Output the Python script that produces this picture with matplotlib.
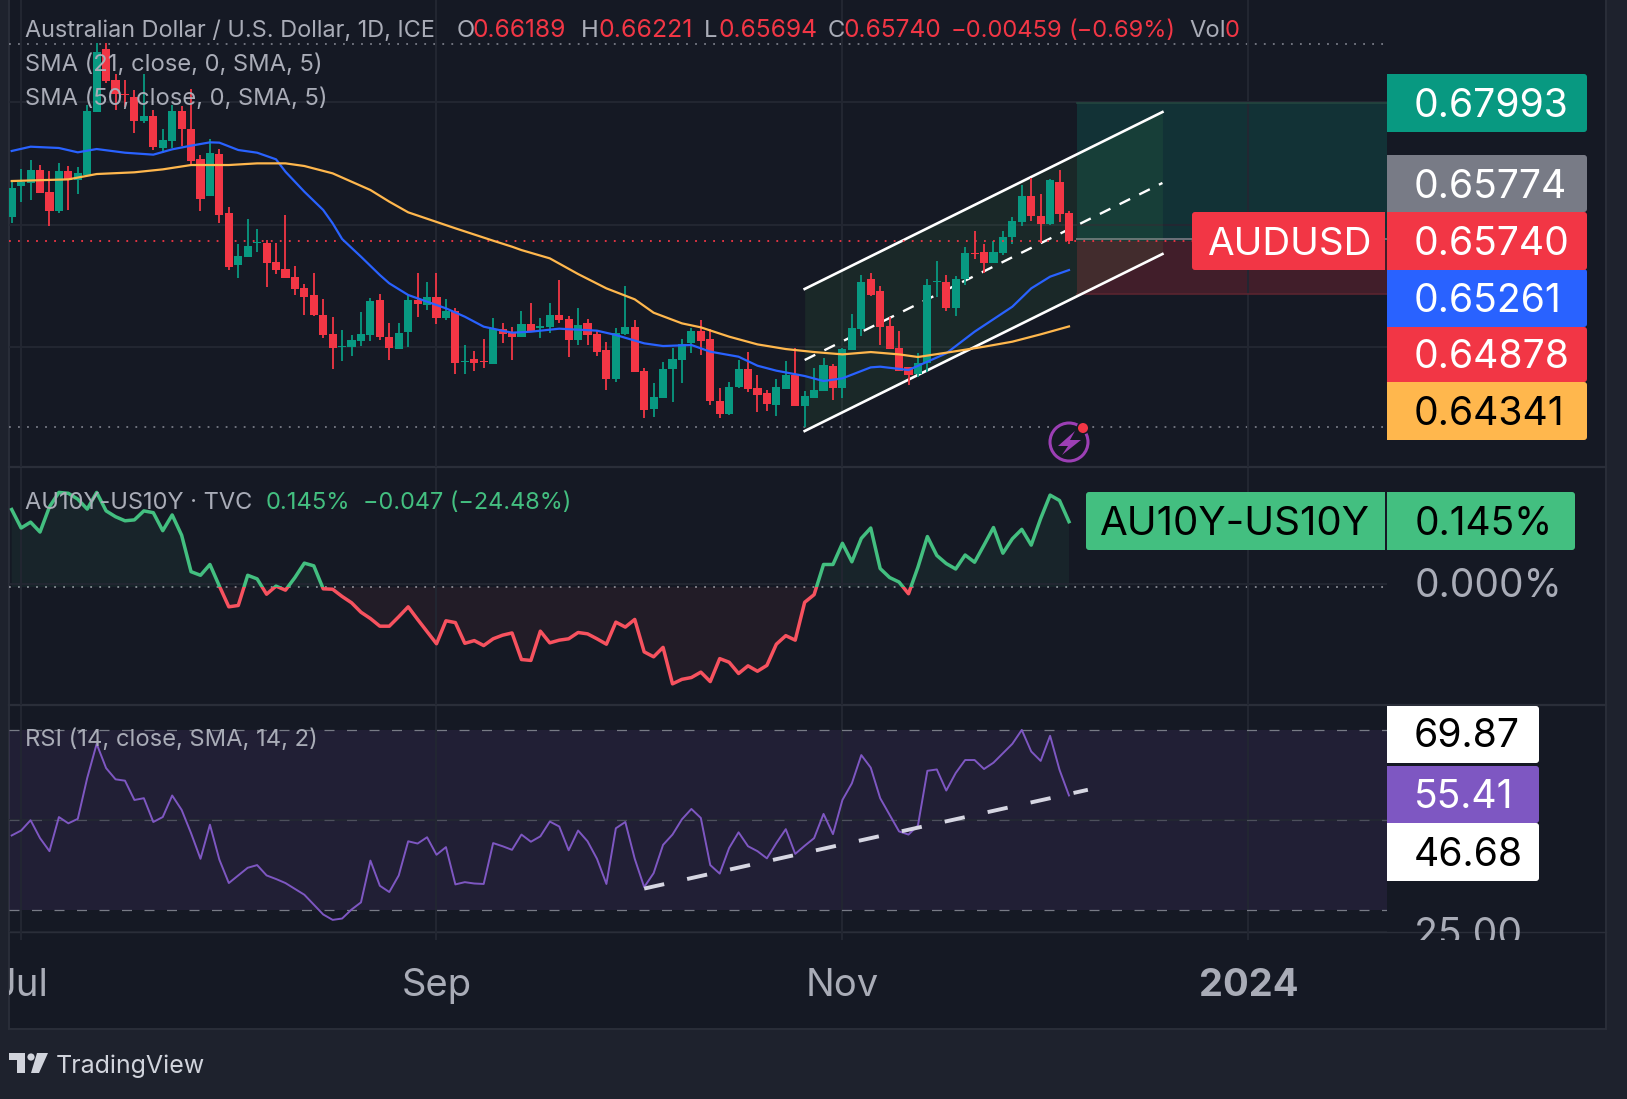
import numpy as np
import matplotlib
matplotlib.use('Agg')
import matplotlib.pyplot as plt
import matplotlib.patches as mpatches

plt.rcParams['font.family'] = ['Inter', 'DejaVu Sans']

# daily candles
opens = [
    .66132, .66638, .66687, .66888, .66535, .66230, .66872, .66730, .66812, .67846,
    .68863, .68362, .68139, .68080, .67699, .67775, .67258, .67372, .67856, .67563,
    .67073, .66475, .67155, .66192, .65343, .65468, .65697, .65702, .65392, .65278,
    .65147, .64968, .64854, .64527, .64212, .64005, .64010, .64108, .64201, .64772,
    .64168, .63978, .64255, .64772, .64690, .64821, .64473, .64592, .63755, .63809,
    .63776, .63733, .64293, .64228, .64168, .64380, .64320, .64331, .64527, .64462,
    .64119, .64397, .64217, .63956, .63483, .64217, .64331, .63613, .62993, .63173,
    .63646, .63793, .64070, .64266, .64136, .63124, .62912, .63347, .63646, .63336,
    .63254, .63058, .63325, .63548, .63042, .63173, .63287, .63695, .63336, .63956,
    .64299, .65115, .64919, .64348, .63989, .63679, .63559, .63744, .65060, .65066,
    .64641, .65120, .65539, .65560, .65381, .65544, .65805, .66050, .66474, .66148,
    .66017, .66703, .66189,
]
highs = [
    .66703, .66910, .67057, .66975, .66872, .67002, .66959, .66937, .67949, .68961,
    .68961, .68460, .68362, .68199, .68460, .67873, .67557, .67949, .67938, .68210,
    .67138, .67394, .67231, .66284, .65686, .66094, .65931, .65751, .65697, .66159,
    .65327, .65028, .65207, .64788, .64495, .64282, .64201, .64571, .64810, .64870,
    .64402, .64402, .64854, .65207, .65066, .65207, .64788, .64636, .64038, .63940,
    .64130, .64473, .64397, .64326, .64592, .64718, .64473, .64718, .65098, .64511,
    .64641, .64462, .64282, .64081, .64310, .65000, .64440, .63657, .63417, .63755,
    .63989, .64136, .64310, .64446, .64293, .63336, .63434, .63793, .63923, .63548,
    .63303, .63477, .63776, .63983, .63287, .63662, .63825, .63728, .63983, .64544,
    .65180, .65207, .65000, .64489, .64266, .63679, .63907, .65115, .65408, .65180,
    .65164, .65637, .65892, .65691, .65740, .65903, .66132, .66654, .66768, .66507,
    .66752, .66899, .66221,
]
lows = [
    .66034, .66377, .66404, .66524, .65980, .66197, .66241, .66502, .66812, .67846,
    .68308, .67873, .67916, .67503, .67655, .67220, .67166, .67258, .67285, .66975,
    .66230, .66475, .66023, .65262, .65136, .65468, .65561, .64979, .65196, .65136,
    .64859, .64527, .64511, .64152, .63651, .63776, .63858, .64027, .64108, .64119,
    .63793, .63978, .64010, .64500, .64609, .64380, .64446, .63564, .63564, .63613,
    .63662, .63733, .64065, .63793, .64168, .64255, .64152, .64228, .64391, .63847,
    .64038, .64038, .63864, .63303, .63439, .64201, .63597, .62846, .62868, .63173,
    .63113, .63417, .63902, .63874, .63058, .62846, .62895, .63330, .63276, .62944,
    .62960, .62879, .63314, .63042, .62705, .63173, .63287, .63140, .63173, .63956,
    .64184, .64837, .64038, .63972, .63613, .63385, .63521, .63597, .64821, .64592,
    .64511, .65011, .65441, .65212, .65381, .65511, .65685, .65974, .66066, .65707,
    .66001, .66050, .65694,
]
closes = [
    .66594, .66703, .66888, .66524, .66230, .66872, .66730, .66839, .67851, .68825,
    .68346, .68134, .68118, .67699, .67775, .67269, .67383, .67856, .67563, .67040,
    .66420, .67171, .66165, .65316, .65490, .65653, .65713, .65376, .65262, .65136,
    .64957, .64826, .64527, .64201, .63989, .64027, .64119, .64217, .64756, .64174,
    .63989, .64233, .64772, .64712, .64821, .64484, .64598, .63749, .63782, .63749,
    .63755, .64293, .64223, .64168, .64380, .64255, .64342, .64527, .64446, .64119,
    .64364, .64201, .63923, .63483, .64233, .64331, .63597, .62977, .63189, .63646,
    .63809, .64054, .64266, .64103, .63124, .62912, .63352, .63646, .63320, .63222,
    .63075, .63352, .63548, .63042, .63205, .63303, .63711, .63336, .63972, .64315,
    .65066, .64854, .64331, .63972, .63613, .63548, .63744, .65017, .65082, .64647,
    .65115, .65544, .65517, .65370, .65560, .65805, .66066, .66474, .66148, .66017,
    .66735, .66181, .65740,
]

# moving averages, read at the bends of each line
sma21_x = [0, 2, 5, 7, 9, 12, 15, 17, 19, 21, 22, 24, 26, 28, 29, 31, 33, 34, 35, 37,
           39, 40, 42, 44, 46, 48, 50, 52, 53, 55, 58, 62, 64, 67, 69, 72, 74, 77, 79,
           81, 84, 86, 88, 91, 92, 95, 97, 99, 102, 106, 108, 110, 112]
sma21_y = [.67204, .67274, .67253, .67182, .67236, .67176, .67144, .67231, .67291, .67345,
           .67340, .67220, .67176, .67068, .66866, .66540, .66241, .66023, .65768, .65479,
           .65180, .65044, .64854, .64745, .64636, .64500, .64337, .64270, .64239, .64255,
           .64304, .64272, .64201, .64065, .64021, .64038, .63929, .63847, .63700, .63619,
           .63532, .63450, .63494, .63673, .63684, .63630, .63766, .63902, .64255, .64663,
           .64962, .65153, .65261]
sma50_x = [0, 6, 9, 13, 16, 19, 23, 26, 29, 31, 34, 38, 40, 42, 47, 51, 53, 54, 57, 60,
           63, 66, 68, 71, 73, 76, 79, 82, 85, 88, 91, 94, 96, 99, 103, 106, 109, 112]
sma50_y = [.66714, .66741, .66828, .66856, .66904, .66975, .66975, .67002, .67002, .66959,
           .66839, .66567, .66377, .66203, .65942, .65740, .65642, .65587, .65452, .65196,
           .64962, .64783, .64565, .64391, .64326, .64174, .64048, .63972, .63923, .63885,
           .63923, .63885, .63842, .63912, .64010, .64092, .64212, .64341]

# AU10Y-US10Y spread
spread = [
    .172, .131, .144, .122, .178, .210, .208, .195, .173, .210,
    .169, .156, .147, .149, .169, .165, .125, .160, .115, .034,
    .026, .050, .002, -.044, -.041, .026, .018, -.016, .002, -.007,
    .021, .053, .047, -.004, -.005, -.021, -.035, -.056, -.070, -.087,
    -.087, -.066, -.044, -.072, -.099, -.126, -.075, -.079, -.125, -.119,
    -.130, -.115, -.107, -.102, -.161, -.163, -.098, -.124, -.118, -.115,
    -.101, -.104, -.115, -.127, -.078, -.089, -.072, -.144, -.155, -.134,
    -.215, -.205, -.201, -.189, -.210, -.159, -.167, -.192, -.175, -.187,
    -.174, -.127, -.108, -.118, -.034, -.017, .050, .050, .097, .056,
    .108, .131, .041, .021, .011, -.015, .044, .112, .070, .052,
    .040, .071, .055, .093, .132, .075, .107, .128, .093, .152,
    .204, .192, .145,
]

# RSI
rsi = [
    46.5, 47.6, 49.9, 45.9, 43.0, 50.6, 49.2, 50.2, 59.3, 66.9,
    61.5, 59.0, 58.7, 54.4, 54.8, 49.5, 50.6, 55.4, 52.2, 47.0,
    41.3, 48.9, 41.1, 35.9, 37.6, 39.3, 39.9, 37.6, 36.8, 35.9,
    34.6, 33.3, 31.1, 28.9, 27.7, 28.0, 30.0, 31.6, 40.9, 35.3,
    33.9, 37.6, 45.2, 44.7, 46.1, 42.2, 43.9, 35.6, 36.1, 35.8,
    35.7, 44.8, 44.1, 43.3, 46.7, 45.1, 46.3, 49.6, 48.5, 43.2,
    47.6, 45.2, 41.3, 35.7, 48.1, 49.5, 41.3, 35.0, 38.1, 44.4,
    46.7, 50.1, 52.4, 50.4, 39.9, 38.0, 43.7, 47.2, 44.1, 43.0,
    41.4, 44.8, 47.9, 42.4, 44.2, 45.9, 51.3, 46.8, 54.4, 58.1,
    64.4, 61.6, 54.8, 51.1, 47.4, 46.7, 48.7, 60.9, 61.2, 56.5,
    60.4, 63.3, 63.3, 61.3, 62.7, 64.8, 66.9, 70.0, 65.2, 63.1,
    68.7, 61.1, 55.41,
]

month_pos = [1, 45, 88, 131]
month_labels = ['Jul', 'Sep', 'Nov', '2024']

price_high = 0.68955
price_low = 0.62705
last_price = 0.65740
target = 0.67993
stop = 0.64878
entry = 0.65774

# channel and trend line end points
channel_x = [84, 121.9]
channel_top = [.64952, .67840]
channel_mid = [.63793, .66682]
channel_bot = [.62634, .65523]
rsi_trend_x = [67, 114]
rsi_trend_y = [34.67, 56.67]

BG = '#151924'
FRAME = '#1e222d'
GRID = '#232732'
LINE = '#2a2e39'
TXT = '#a9acb7'
GREEN = '#089981'
RED = '#f23645'
AUGREEN = '#43bf80'
AURED = '#f7525f'
PURPLE = '#7e57c2'

W, H = 1627, 1099
fig = plt.figure(figsize=(W / 100, H / 100), dpi=100, facecolor=FRAME)


def pane(x0, y0, x1, y1, zorder=1):
    a = fig.add_axes([x0 / W, 1 - y1 / H, (x1 - x0) / W, (y1 - y0) / H], zorder=zorder)
    a.patch.set_alpha(0)
    for s in a.spines.values():
        s.set_visible(False)
    return a


# background and frame
ax_bg = pane(0, 0, W, H, zorder=0)
ax_bg.set_xlim(0, W)
ax_bg.set_ylim(H, 0)
ax_bg.axis('off')
ax_bg.add_patch(mpatches.Rectangle((9, -2), 1597, 1031, fc=BG, ec=LINE, lw=1.4))
for yy in [467, 705, 932]:
    ax_bg.plot([9, 1606], [yy, yy], color=LINE, lw=1.6 if yy != 932 else 1.0)

left, right = 9, 1387
xlim = ((left - 11.7) / 9.44, (right - 11.7) / 9.44)

ax = pane(left, 0, right, 467)
ax2 = pane(left, 468, right, 705)
ax3 = pane(left, 706, right, 932)
ax4 = pane(left, 932, right, 1028)
for a in (ax, ax2, ax3, ax4):
    a.set_xlim(*xlim)
    a.set_xticks(month_pos)
    a.tick_params(length=0, labelbottom=False, labelleft=False)
    a.grid(True, axis='x', color=GRID, lw=1.4, zorder=0)
ax4.grid(False)
ax4.set_yticks([])
ax4.tick_params(axis='x', top=True, bottom=False, direction='in', length=5.8, color=GRID, width=1.4)

# main pane
ax.set_ylim(0.62047, 0.69668)
ax.set_yticks([.64, .66, .68])
ax.grid(True, axis='y', color=GRID, lw=1.4, zorder=0)
ax.axhline(price_high, color='#787b86', lw=1.3, ls=(0, (1, 4)), zorder=1)
ax.axhline(price_low, color='#787b86', lw=1.3, ls=(0, (1, 4)), zorder=1)
ax.hlines(last_price, xlim[0], 125, color=RED, lw=1.3, ls=(0, (1, 4)), zorder=5)

# long position box
ax.fill_between([112.85, xlim[1]], last_price, target, color=GREEN, alpha=.2, lw=0, zorder=1)
ax.fill_between([112.85, xlim[1]], stop, last_price, color=RED, alpha=.2, lw=0, zorder=1)
ax.plot([112.85, xlim[1]], [entry, entry], color='#6d7079', lw=1.4, zorder=2)
ax.plot([112.85, xlim[1]], [target, target], color='#24463f', lw=1.2, zorder=2)
ax.plot([112.85, xlim[1]], [stop, stop], color='#5a2530', lw=1.2, zorder=2)

# channel
ax.fill_between(channel_x, channel_bot, channel_top, color='#4caf50', alpha=.1, lw=0, zorder=2)
ax.plot(channel_x, channel_top, color='white', lw=1.9, zorder=3)
ax.plot(channel_x, channel_bot, color='white', lw=1.9, zorder=3)
ax.plot(channel_x, channel_mid, color='white', lw=1.7, ls=(0, (5.0, 4.3)), zorder=3)

# candles
idx = np.arange(len(closes))
o, h, l, c = map(np.array, (opens, highs, lows, closes))
colors = [GREEN if b >= a else RED for a, b in zip(o, c)]
ax.vlines(idx, l, h, colors=colors, lw=1.3, zorder=4)
ax.bar(idx, np.abs(c - o), bottom=np.minimum(o, c), width=.86, color=colors, lw=0, zorder=4)

ax.plot(sma21_x, sma21_y, color='#2962ff', lw=1.6, zorder=5)
ax.plot(sma50_x, sma50_y, color='#ffb74d', lw=1.6, zorder=5)

# spread pane
ax2.set_ylim(-.26196, .26418)
ax2.set_yticks([.006])
ax2.grid(True, axis='y', color=GRID, lw=1.4, zorder=0)
ax2.axhline(0, color='#8a8d96', lw=1.3, ls=(0, (1, 4)), zorder=1)
sp = np.array(spread)
xs = np.arange(len(sp))
ax2.fill_between(xs, 0, sp, where=sp >= 0, interpolate=True, color=AUGREEN, alpha=.07, lw=0, zorder=1)
ax2.fill_between(xs, 0, sp, where=sp <= 0, interpolate=True, color=AURED, alpha=.06, lw=0, zorder=1)
up, = ax2.plot(xs, sp, color=AUGREEN, lw=2.5, zorder=3)
dn, = ax2.plot(xs, sp, color=AURED, lw=2.5, zorder=3)
up.set_clip_path(mpatches.Rectangle((xlim[0], 0), xlim[1] - xlim[0], 1, transform=ax2.transData))
dn.set_clip_path(mpatches.Rectangle((xlim[0], -1), xlim[1] - xlim[0], 1, transform=ax2.transData))

# RSI pane
ax3.set_ylim(25.11, 75.33)
ax3.set_yticks([25, 50])
ax3.grid(True, axis='y', color=GRID, lw=1.4, zorder=0)
ax3.axhspan(30, 70, color='#8a55c4', alpha=.11, lw=0, zorder=1)
for lev in [70, 50, 30]:
    ax3.axhline(lev, color='#787b86', lw=.9, ls=(0, (8, 10)), zorder=2, alpha=.5 if lev == 50 else 1)
ax3.plot(np.arange(len(rsi)), rsi, color=PURPLE, lw=1.4, zorder=3)
ax3.plot(rsi_trend_x, rsi_trend_y, color='#d6d6e2', lw=2.8, ls=(0, (5.27, 6.04)), zorder=3)

# overlay in pixels for labels
px = pane(0, 0, W, H, zorder=5)
px.set_xlim(0, W)
px.set_ylim(H, 0)
px.axis('off')


def box(x0, y0, x1, y1, color):
    px.add_patch(mpatches.FancyBboxPatch((x0, y0), x1 - x0, y1 - y0, boxstyle='round,pad=0,rounding_size=3', fc=color, lw=0))


def flat(x0, y0, x1, y1, color):
    box(x0, y0, x1, y1, color)
    px.add_patch(mpatches.Rectangle((x0, y0), 6, y1 - y0, fc=color, lw=0))


def txt(x, y, s, color=TXT, size=17.1, ha='left', **kw):
    return px.text(x, y, s, color=color, fontsize=size, ha=ha, va='baseline', **kw)


PS = 28.2
for y0, y1, base, col, fg, s in [
    (74, 132, 116.7, GREEN, 'white', f'{target:.5f}'),
    (155, 212, 197.7, '#787b86', 'white', f'{entry:.5f}'),
    (269, 327, 311.7, '#2962ff', 'white', '0.65261'),
    (327, 382, 367.7, RED, 'white', f'{stop:.5f}'),
    (382, 440, 425, '#ffb74d', 'black', '0.64341'),
    (212, 270, 255, RED, 'white', f'{last_price:.5f}'),
]:
    flat(1387, y0, 1587, y1, col)
    txt(1414, base, s, fg, PS)

box(1192, 212, 1385, 270, RED)
px.add_patch(mpatches.Rectangle((1300, 212), 85, 58, fc=RED, lw=0))
txt(1207, 255, 'AUDUSD', 'white', 27.8)

box(1086, 492, 1385, 550, AUGREEN)
px.add_patch(mpatches.Rectangle((1300, 492), 85, 58, fc=AUGREEN, lw=0))
flat(1387, 492, 1575, 550, AUGREEN)
txt(1100, 535, 'AU10Y-US10Y', 'black', 29)
txt(1415, 535, '0.145%', 'black', 28)
txt(1415, 597.3, '0.000%', TXT, 28)

flat(1387, 706, 1539, 763, 'white')
flat(1387, 766, 1539, 823, PURPLE)
flat(1387, 823, 1539, 881, 'white')
txt(1414, 747.3, '69.87', 'black', PS)
txt(1414, 808.3, '55.41', 'white', PS)
txt(1414, 865.7, '46.68', 'black', PS)
t25 = txt(1414, 946, '25.00', TXT, PS)
t25.set_clip_on(True)
t25.set_clip_path(mpatches.Rectangle((1387, 900), 220, 40, transform=px.transData))

# time axis
for pos, lab in zip(month_pos, month_labels):
    xp = 11.7 + 9.44 * pos
    t = txt(xp, 996, lab, TXT, 27.5, ha='center', fontweight='bold' if lab == '2024' else 'normal')
    t.set_clip_on(True)
    t.set_clip_path(mpatches.Rectangle((9, 940), 1597, 88, transform=px.transData))

# legends
txt(25, 36.7, 'Australian Dollar / U.S. Dollar, 1D, ICE', size=16.9)
for x, s, col, sz in [(456.5, 'O', TXT, 17.1), (473, '0.66189', RED, 17.7), (581, 'H', TXT, 17.1), (599, '0.66221', RED, 17.9),
                      (703.5, 'L', TXT, 17.1), (719, '0.65694', RED, 17.7), (828, 'C', TXT, 17.1), (844, '0.65740', RED, 17.7),
                      (951, '\u22120.00459', RED, 17.1), (1069, '(\u22120.69%)', RED, 17.0), (1189, 'Vol', TXT, 17.1), (1225, '0', RED, 17.1)]:
    txt(x, 36.7, s, col, sz)
txt(25, 71, 'SMA (21, close, 0, SMA, 5)')
txt(25, 105, 'SMA (50, close, 0, SMA, 5)')
txt(25, 509, 'AU10Y-US10Y \u00b7 TVC', size=17)
txt(265.6, 509, '0.145%', AUGREEN, 17.1)
txt(363, 509, '\u22120.047 (\u221224.48%)', AUGREEN, 16.9)
txt(25, 746, 'RSI (14, close, SMA, 14, 2)')

# earnings flash icon
px.add_patch(mpatches.Circle((1069, 442), 19, fc=BG, ec='#9c3fb5', lw=2.2))
px.add_patch(mpatches.Polygon([(1075, 431), (1058, 446), (1068, 446), (1062, 455), (1081, 440), (1070, 440)],
                              fc='#9c3fb5', lw=0))
px.add_patch(mpatches.Circle((1083, 428), 6.5, fc=BG, lw=0))
px.add_patch(mpatches.Circle((1083, 428), 5, fc=RED, lw=0))

# TradingView logo
logo = '#d1d4dc'
px.add_patch(mpatches.Polygon([(9, 1053), (25, 1053), (25, 1073), (17, 1073), (17, 1060), (9, 1060)], fc=logo, lw=0))
px.add_patch(mpatches.Circle((31, 1057), 3.6, fc=logo, lw=0))
px.add_patch(mpatches.Polygon([(37, 1053), (48, 1053), (39, 1073), (31, 1073)], fc=logo, lw=0))
txt(56, 1073, 'TradingView', logo, 18)

fig.savefig('out.png', dpi=100, facecolor=fig.get_facecolor())
